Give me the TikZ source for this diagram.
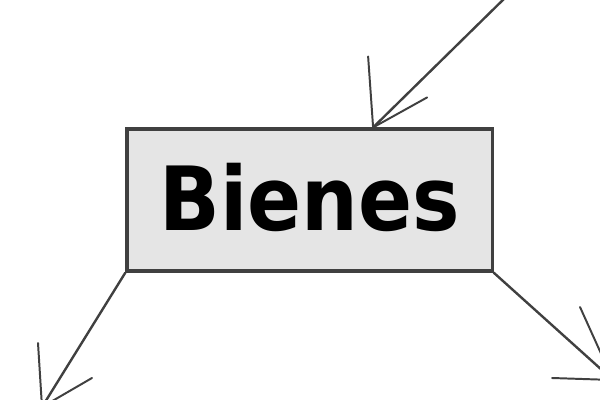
\documentclass[tikz,border=0pt]{standalone}
\usepackage{fontspec}
\newfontfamily\conceptfont{DejaVu Sans Condensed}
\usetikzlibrary{arrows.meta}

\begin{document}
\begin{tikzpicture}[x=0.025cm, y=-0.025cm,
    concept/.style={draw=black!75, line width=2.2pt, fill=black!10,
        minimum width=9.125cm, minimum height=3.55cm, inner sep=0pt,
        text height=1.625cm, text depth=0.125cm,
        font=\conceptfont\bfseries\fontsize{63}{70}\selectfont},
    link/.style={draw=black!75, line width=1.7pt},
    barb/.style={draw=black!75, line width=1.4pt, line cap=round}]
            \useasboundingbox (0,0) rectangle (600,400);
            \clip (0,0) rectangle (600,400);
            \node[concept] (bienes) at (309.5,200) {Bienes};
            \coordinate (from) at (510,-7);
            \coordinate (tipin) at ([xshift=1.59cm]bienes.north);
            \coordinate (tipl) at (42,407);
            \coordinate (tipr) at (613,380);
            \draw[link] (from) -- (tipin);
            \draw[barb] (tipin) -- ++(-5,-71);
            \draw[barb] (tipin) -- ++(54,-30);
            \draw[link] (bienes.south west) -- (tipl);
            \draw[barb] (tipl) -- ++(-4,-64);
            \draw[barb] (tipl) -- ++(50,-29);
            \draw[link] (bienes.south east) -- (tipr);
            \draw[barb] (tipr) -- ++(-61,-2);
            \draw[barb] (tipr) -- ++(-33,-73);
\end{tikzpicture}
\end{document}
